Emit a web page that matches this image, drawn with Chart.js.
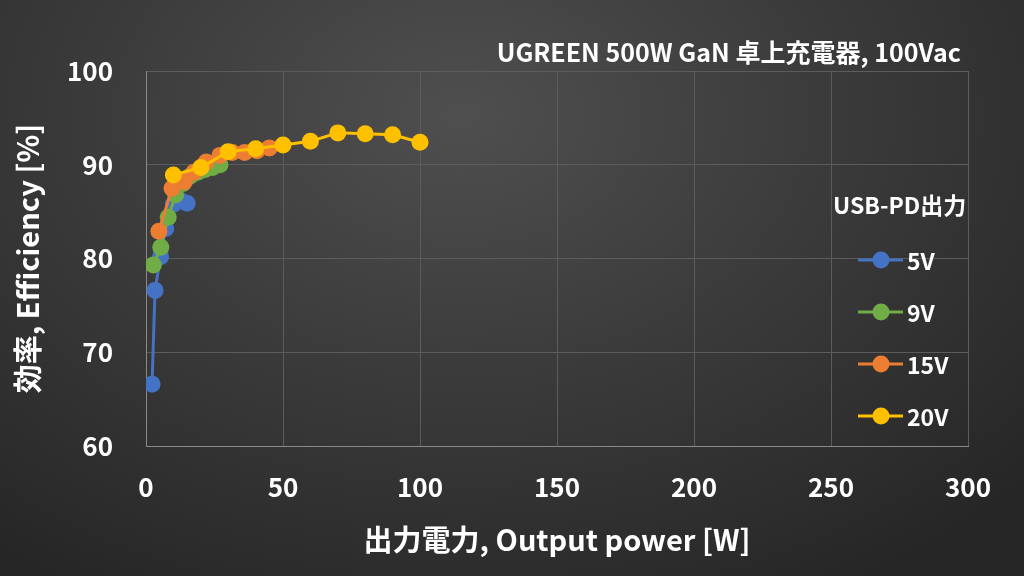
<!DOCTYPE html>
<html lang="ja">
<head>
    <meta charset="UTF-8">
    <title>UGREEN 500W GaN 効率</title>
    <script src="https://cdn.jsdelivr.net/npm/chart.js"></script>
    <style>
        html, body {
            margin: 0;
            padding: 0;
            width: 1024px;
            height: 576px;
            overflow: hidden;
            background: radial-gradient(ellipse 75% 95% at 45% 20%, #4f4f4f 0%, #3c3c3c 45%, #262626 100%);
        }
        #wrap {
            position: absolute;
            left: 0;
            top: 0;
            width: 1024px;
            height: 576px;
        }
    </style>
</head>
<body>
<div id="wrap"><canvas id="chart"></canvas></div>

<script>
    const FONT = '"Noto Sans CJK JP", "Noto Sans", sans-serif';

    // x tick labels and y tick labels
    const xTicks = [0, 50, 100, 150, 200, 250, 300];
    const yTicks = [60, 70, 80, 90, 100];

    const seriesNames = ['5V', '9V', '15V', '20V'];
    const seriesColors = ['#4472C4', '#70AD47', '#ED7D31', '#FFC000'];

    // output power [W] and efficiency [%] per USB-PD voltage
    const powerSeries5V = [2.2, 3.3, 5.3, 7.2, 10.0, 12.5, 15.0];
    const effSeries5V   = [66.6, 76.6, 80.2, 83.2, 85.8, 86.2, 85.9];

    const powerSeries9V = [2.7, 5.4, 8.1, 10.8, 13.5, 16.2, 18.9, 21.6, 24.3, 27.0];
    const effSeries9V   = [79.3, 81.2, 84.4, 86.8, 88.0, 88.8, 89.2, 89.5, 89.7, 90.0];

    const powerSeries15V = [4.7, 9.5, 14.0, 17.5, 22.0, 27.0, 31.5, 36.0, 40.5, 45.0];
    const effSeries15V   = [82.9, 87.5, 88.2, 89.2, 90.3, 91.0, 91.3, 91.3, 91.5, 91.8];

    const powerSeries20V = [10, 20, 30, 40, 50, 60, 70, 80, 90, 100];
    const effSeries20V   = [88.9, 89.7, 91.4, 91.7, 92.1, 92.5, 93.4, 93.3, 93.2, 92.4];

    const powers = [powerSeries5V, powerSeries9V, powerSeries15V, powerSeries20V];
    const effs = [effSeries5V, effSeries9V, effSeries15V, effSeries20V];

    const datasets = seriesNames.map((name, i) => ({
        label: name,
        data: powers[i].map((p, j) => ({ x: p, y: effs[i][j] })),
        borderColor: seriesColors[i],
        backgroundColor: seriesColors[i],
        borderWidth: 3,
        pointRadius: 8.5,
        pointHoverRadius: 8.5,
        pointBorderWidth: 0,
        showLine: true,
        tension: 0,
        order: seriesNames.length - i // later series drawn on top
    }));

    // title and legend are drawn inside the plot, like the original
    const overlayPlugin = {
        id: 'overlay',
        afterDraw(chart) {
            const ctx = chart.ctx;
            ctx.save();
            ctx.fillStyle = '#ffffff';
            ctx.textBaseline = 'middle';

            ctx.font = 'bold 25px ' + FONT;
            ctx.textAlign = 'right';
            ctx.fillText('UGREEN 500W GaN 卓上充電器, 100Vac', 961, 52);

            ctx.font = 'bold 23px ' + FONT;
            ctx.textAlign = 'left';
            ctx.fillText('USB-PD出力', 833, 205);

            const rowY = [260, 312, 364, 416];
            seriesNames.forEach((name, i) => {
                const y = rowY[i];
                ctx.strokeStyle = seriesColors[i];
                ctx.lineWidth = 3;
                ctx.beginPath();
                ctx.moveTo(858, y);
                ctx.lineTo(903, y);
                ctx.stroke();
                ctx.fillStyle = seriesColors[i];
                ctx.beginPath();
                ctx.arc(881, y, 8.5, 0, Math.PI * 2);
                ctx.fill();
                ctx.fillStyle = '#ffffff';
                ctx.font = 'bold 23px ' + FONT;
                ctx.fillText(name, 907, y + 1);
            });
            ctx.restore();
        }
    };

    const ctx = document.getElementById('chart').getContext('2d');
    const chart = new Chart(ctx, {
        type: 'scatter',
        data: { datasets: datasets },
        options: {
            responsive: true,
            maintainAspectRatio: false,
            animation: false,
            layout: { padding: { top: 71, right: 56, left: 0, bottom: 0 } },
            plugins: {
                legend: { display: false },
                tooltip: { enabled: false }
            },
            scales: {
                x: {
                    type: 'linear',
                    min: xTicks[0],
                    max: xTicks[xTicks.length - 1],
                    afterBuildTicks: (scale) => { scale.ticks = xTicks.map(v => ({ value: v })); },
                    afterFit: (scale) => { scale.height = 576 - 446; },
                    grid: { color: '#5c5c5c', lineWidth: 1, drawTicks: false },
                    border: { color: '#8a8a8a', width: 1 },
                    ticks: {
                        color: '#ffffff',
                        padding: 26,
                        font: { family: FONT, size: 26, weight: 'bold' }
                    },
                    title: {
                        display: true,
                        text: '出力電力, Output power [W]',
                        color: '#ffffff',
                        padding: { top: 10, bottom: 19 },
                        font: { family: FONT, size: 29, weight: 'bold' }
                    }
                },
                y: {
                    type: 'linear',
                    min: yTicks[0],
                    max: yTicks[yTicks.length - 1],
                    afterBuildTicks: (scale) => { scale.ticks = yTicks.map(v => ({ value: v })); },
                    afterFit: (scale) => { scale.width = 146; },
                    grid: { color: '#5c5c5c', lineWidth: 1, drawTicks: false },
                    border: { color: '#8a8a8a', width: 1 },
                    ticks: {
                        color: '#ffffff',
                        padding: 33,
                        font: { family: FONT, size: 26, weight: 'bold' }
                    },
                    title: {
                        display: true,
                        text: '効率, Efficiency [%]',
                        color: '#ffffff',
                        padding: { top: 11, bottom: 0 },
                        font: { family: FONT, size: 29, weight: 'bold' }
                    }
                }
            }
        },
        plugins: [overlayPlugin]
    });
</script>
</body>
</html>
